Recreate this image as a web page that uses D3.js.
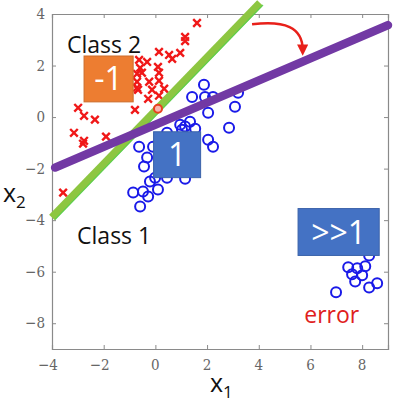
<!DOCTYPE html>
<html>
<head>
<meta charset="utf-8">
<script src="https://cdn.jsdelivr.net/npm/d3@7"></script>
<style>
  body { margin: 0; background: #fff; }
</style>
</head>
<body>
<div id="chart"></div>
<script>
// scatter of two classes with a least-squares boundary pulled by outliers

const xTicks = [-4, -2, 0, 2, 4, 6, 8];
const yTicks = [-8, -6, -4, -2, 0, 2, 4];

// class 2 (red crosses)
const class2X = [1.61, 1.15, 1.15, 0.96, 0.53, 0.65, 0.14, -0.32, -0.63, -0.59, -0.52, 0.10, 0.14,
  -0.71, -0.71, -0.24, 0.14, -0.71, -0.67, -0.13, 0.34, -0.28, 0.14, -1.99, -0.79,
  -2.99, -2.76, -2.34, -3.15, -2.76, -2.80, -1.91, -3.57];
const class2Y = [3.65, 3.11, 2.95, 2.49, 2.41, 2.26, 2.53, 2.14, 2.22, 1.91, 1.72, 1.95, 1.72,
  1.68, 1.37, 1.37, 1.41, 1.14, 1.06, 1.06, 1.10, 0.71, 0.83, 1.83, 0.28,
  0.36, 0.05, -0.10, -0.61, -0.92, -1.03, -0.76, -2.93];

// class 1 (blue circles), main cluster + far cluster
const class1X = [1.88, 1.42, 1.92, 2.23, 3.20, 3.08, 2.04, 0.96, 1.34, 1.54, 1.15, 1.03, 2.85,
  0.45, 2.04, 2.23, -0.63, -0.09, -0.32, -0.44, -0.01, -0.21, 0.45, 1.15, -0.86, -0.48,
  0.10, -0.28, -0.59,
  8.27, 7.46, 7.81, 8.12, 7.61, 8.00, 7.73, 8.27, 8.58, 6.99];
const class1Y = [1.25, 0.78, 0.78, 0.78, 0.94, 0.40, 0.17, -0.30, -0.18, -0.45, -0.37, -0.49, -0.41,
  -0.61, -0.88, -1.15, -1.15, -1.15, -1.57, -1.92, -2.35, -2.50, -2.35, -2.39, -2.93, -2.89,
  -2.81, -3.08, -3.47,
  -5.37, -5.83, -5.87, -5.79, -6.10, -6.14, -6.38, -6.61, -6.45, -6.80];

// highlighted point on the boundary
const markedX = [0.10];
const markedY = [0.32];

// boundaries: [x0, y0, x1, y1]
const greenLine = [-4, -3.9, 4.05, 4.43];
const purpleLine = [-3.88, -1.96, 9, 3.57];

// annotation boxes: label, x0, y0, x1, y1, colour
const boxLabels = ["-1", "1", ">>1"];
const boxX0 = [-2.76, -0.07, 5.52];
const boxY0 = [2.37, -0.57, -3.55];
const boxX1 = [-0.86, 1.75, 8.66];
const boxY1 = [0.59, -2.35, -5.37];
const boxColors = ["#ed7d31", "#4472c4", "#4472c4"];

const width = 395, height = 405;
const margin = { top: 14, right: 7, bottom: 56, left: 52 };
const sans = "'Open Sans', Lato, sans-serif";
const serif = "'DejaVu Serif Condensed', 'DejaVu Serif', 'Liberation Serif', serif";

const svg = d3.select("#chart").append("svg")
  .attr("width", width)
  .attr("height", height)
  .style("font-family", sans);

const x = d3.scaleLinear().domain([-4, 9]).range([margin.left, width - margin.right]);
const y = d3.scaleLinear().domain([-9, 4]).range([height - margin.bottom, margin.top]);

const fmt = d => String(d).replace("-", "\u2212");

// axes: ticks inward, box all round (labels drawn separately)
const axB = svg.append("g").attr("transform", `translate(0,${y(-9)})`)
  .call(d3.axisBottom(x).tickValues(xTicks).tickSize(-4).tickFormat(""));
const axL = svg.append("g").attr("transform", `translate(${x(-4)},0)`)
  .call(d3.axisLeft(y).tickValues(yTicks).tickSize(-4).tickFormat(""));
const axT = svg.append("g").attr("transform", `translate(0,${y(4)})`)
  .call(d3.axisTop(x).tickValues(xTicks).tickSize(-4).tickFormat(""));
const axR = svg.append("g").attr("transform", `translate(${x(9)},0)`)
  .call(d3.axisRight(y).tickValues(yTicks).tickSize(-4).tickFormat(""));

[axB, axL, axT, axR].forEach(a => {
  a.select(".domain").attr("stroke", "#8a8a8a").attr("stroke-width", 1.2);
  a.selectAll(".tick line").attr("stroke", "#8a8a8a");
});

svg.append("g").selectAll("text")
  .data(xTicks)
  .join("text")
  .attr("x", d => x(d) - (d < 0 ? 4 : 0))
  .attr("y", y(-9) + 21)
  .attr("text-anchor", "middle")
  .style("font-family", serif)
  .style("font-size", "15px")
  .attr("fill", "#666")
  .text(fmt);

svg.append("g").selectAll("text")
  .data(yTicks)
  .join("text")
  .attr("x", x(-4) - 7)
  .attr("y", d => y(d))
  .attr("dy", "0.34em")
  .attr("text-anchor", "end")
  .style("font-family", serif)
  .style("font-size", "15px")
  .attr("fill", "#666")
  .text(fmt);

// axis titles
const xt = svg.append("text").attr("x", 210).attr("y", 392).attr("font-size", 25).attr("fill", "#111");
xt.append("tspan").text("x");
xt.append("tspan").attr("font-size", 17).attr("dy", 6).text("1");
const yt = svg.append("text").attr("x", 3).attr("y", 202).attr("font-size", 25).attr("fill", "#111");
yt.append("tspan").text("x");
yt.append("tspan").attr("font-size", 17).attr("dy", 6).text("2");

// red crosses
const cs = 3.8;
svg.append("g").selectAll("path")
  .data(d3.range(class2X.length))
  .join("path")
  .attr("d", i => {
    const px = x(class2X[i]), py = y(class2Y[i]);
    return `M${px - cs},${py - cs}L${px + cs},${py + cs}M${px - cs},${py + cs}L${px + cs},${py - cs}`;
  })
  .attr("stroke", "#f01818")
  .attr("stroke-width", 2.4);

// blue circles
svg.append("g").selectAll("circle")
  .data(d3.range(class1X.length))
  .join("circle")
  .attr("cx", i => x(class1X[i]))
  .attr("cy", i => y(class1Y[i]))
  .attr("r", 5)
  .attr("fill", "none")
  .attr("stroke", "#1a1ae8")
  .attr("stroke-width", 2);

// boundaries
svg.append("line")
  .attr("x1", x(greenLine[0])).attr("y1", y(greenLine[1]))
  .attr("x2", x(greenLine[2])).attr("y2", y(greenLine[3]))
  .attr("stroke", "#8dc641").attr("stroke-width", 8);
svg.append("line")
  .attr("x1", x(greenLine[0]) + 3).attr("y1", y(greenLine[1]) + 2)
  .attr("x2", x(greenLine[2]) + 3).attr("y2", y(greenLine[3]) + 2)
  .attr("stroke", "#4fd24f").attr("stroke-width", 1.2).attr("opacity", 0.8);

// marked point
svg.append("g").selectAll("circle")
  .data(d3.range(markedX.length))
  .join("circle")
  .attr("cx", i => x(markedX[i]))
  .attr("cy", i => y(markedY[i]))
  .attr("r", 4)
  .attr("fill", "#f7b6b0")
  .attr("stroke", "#e8401e")
  .attr("stroke-width", 2);

svg.append("line")
  .attr("x1", x(purpleLine[0])).attr("y1", y(purpleLine[1]))
  .attr("x2", x(purpleLine[2])).attr("y2", y(purpleLine[3]))
  .attr("stroke", "#7239a4").attr("stroke-width", 8.5)
  .attr("stroke-linecap", "round");

// red arrow from old to new boundary
svg.append("defs").append("marker")
  .attr("id", "head").attr("viewBox", "0 0 10 10")
  .attr("refX", 5).attr("refY", 5)
  .attr("markerWidth", 4.5).attr("markerHeight", 4.5)
  .attr("orient", "auto")
  .append("path").attr("d", "M0,0L10,5L0,10Z").attr("fill", "#e8201a");
svg.append("path")
  .attr("d", `M${x(3.74)},${y(3.6)} C${x(5.0)},${y(3.75)} ${x(5.7)},${y(3.5)} ${x(5.7)},${y(2.6)}`)
  .attr("fill", "none")
  .attr("stroke", "#e8201a")
  .attr("stroke-width", 2.5)
  .attr("marker-end", "url(#head)");

// value boxes
const boxes = svg.append("g").selectAll("g")
  .data(d3.range(boxLabels.length))
  .join("g");
boxes.append("rect")
  .attr("x", i => x(boxX0[i]))
  .attr("y", i => y(boxY0[i]))
  .attr("width", i => x(boxX1[i]) - x(boxX0[i]))
  .attr("height", i => y(boxY1[i]) - y(boxY0[i]))
  .attr("fill", i => boxColors[i])
  .attr("stroke", i => d3.color(boxColors[i]).darker(0.4))
  .attr("stroke-width", 1);
boxes.append("text")
  .attr("x", i => (x(boxX0[i]) + x(boxX1[i])) / 2)
  .attr("y", i => (y(boxY0[i]) + y(boxY1[i])) / 2)
  .attr("dy", "0.36em")
  .attr("text-anchor", "middle")
  .attr("font-size", 32)
  .attr("fill", "#fff")
  .text(i => boxLabels[i]);

// class labels
svg.append("text").attr("x", x(-3.42)).attr("y", y(2.49))
  .attr("font-size", 23).attr("fill", "#111").text("Class 2");
svg.append("text").attr("x", x(-3.03)).attr("y", y(-4.94))
  .attr("font-size", 23).attr("fill", "#111").text("Class 1");
svg.append("text").attr("x", x(5.76)).attr("y", y(-8.0))
  .attr("font-size", 23).attr("fill", "#e0201c").text("error");
</script>
</body>
</html>
